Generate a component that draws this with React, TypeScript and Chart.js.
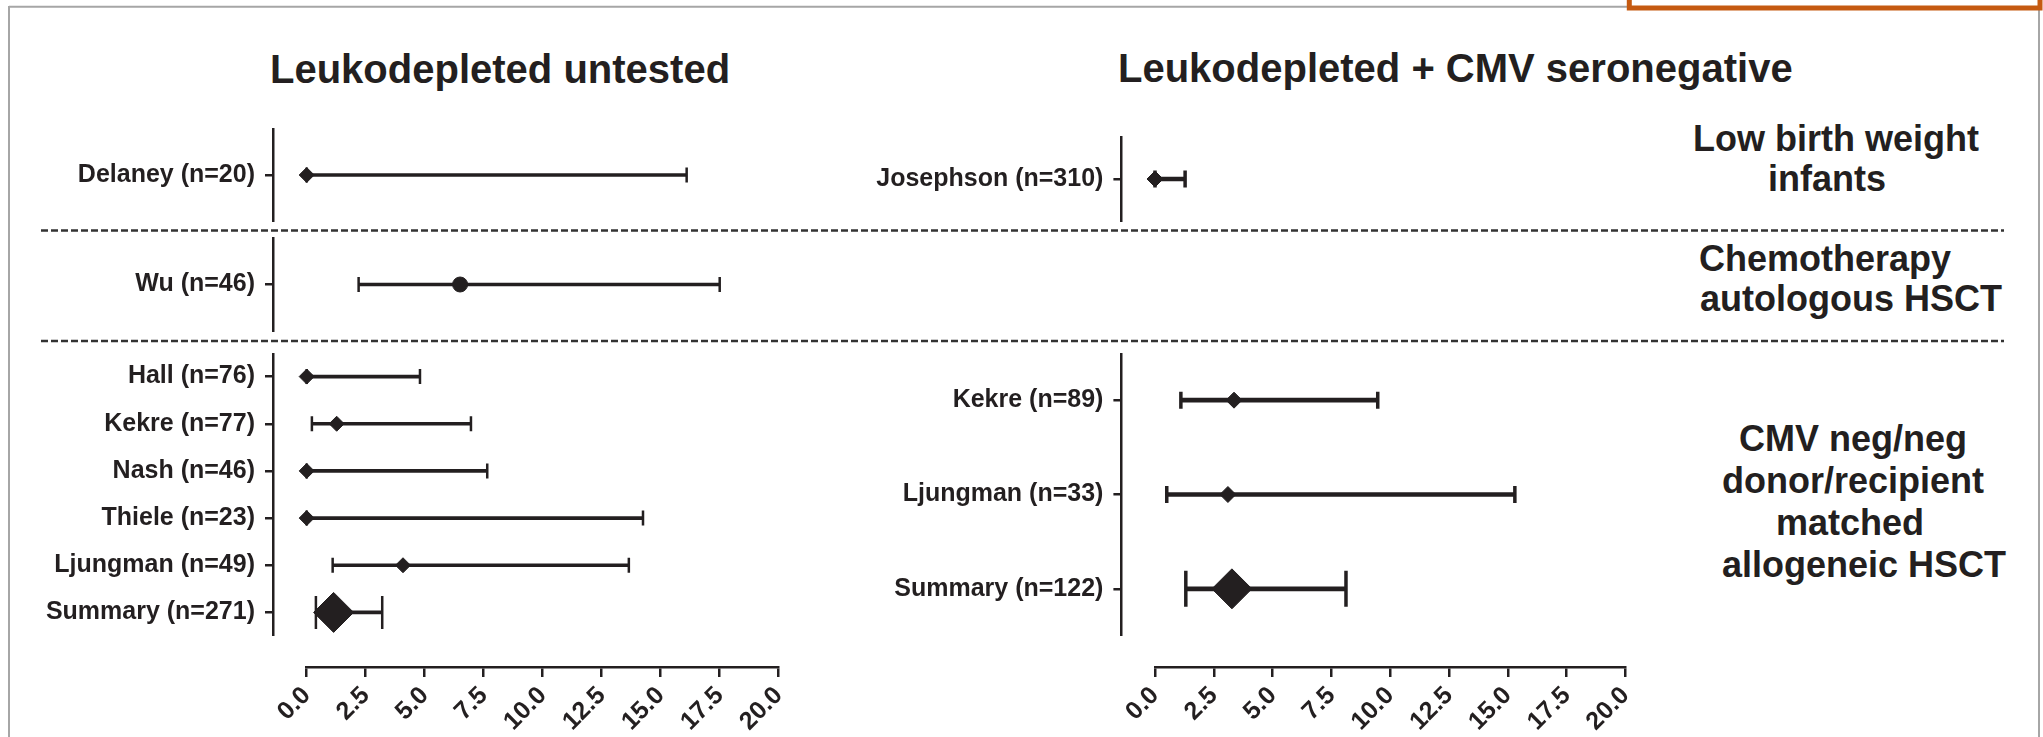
import React, { useEffect, useRef } from 'react';
import { Chart, registerables } from 'chart.js';

Chart.register(...registerables);

const INK = '#231f20';
const FONT_FAMILY = "'Liberation Sans', Arial, Helvetica, sans-serif";

// Leukodepleted untested: study, point estimate and 95% CI
const untestedStudies = ['Delaney (n=20)', 'Wu (n=46)', 'Hall (n=76)', 'Kekre (n=77)', 'Nash (n=46)', 'Thiele (n=23)', 'Ljungman (n=49)', 'Summary (n=271)'];
const untestedEstimate = [0, 6.5, 0, 1.27, 0, 0, 4.08, 1.14];
const untestedLower = [0, 2.2, 0, 0.22, 0, 0, 1.1, 0.39];
const untestedUpper = [16.1, 17.5, 4.8, 6.96, 7.65, 14.25, 13.65, 3.2];
const untestedPopulation = [0, 1, 2, 2, 2, 2, 2, 2];

// Leukodepleted + CMV seronegative: study, point estimate and 95% CI
const seronegStudies = ['Josephson (n=310)', 'Kekre (n=89)', 'Ljungman (n=33)', 'Summary (n=122)'];
const seronegEstimate = [0, 3.36, 3.1, 3.27];
const seronegLower = [0, 1.1, 0.5, 1.31];
const seronegUpper = [1.28, 9.47, 15.3, 8.12];
const seronegPopulation = [0, 2, 2, 2];

const panelTitles = ['Leukodepleted untested', 'Leukodepleted + CMV seronegative'];
const populationLabels = [
  ['Low birth weight', 'infants'],
  ['Chemotherapy', 'autologous HSCT'],
  ['CMV neg/neg', 'donor/recipient', 'matched', 'allogeneic HSCT'],
];
const xTickValues = [0, 2.5, 5, 7.5, 10, 12.5, 15, 17.5, 20];
const X_MAX = 20;
const circleMarkerStudies = ['Wu (n=46)'];

// ---- layout ----
type Panel = {
  canvasLeft: number;
  canvasWidth: number;
  axisX: number; // pixel of the vertical study axis
  zeroX: number; // pixel of value 0
  fullX: number; // pixel of value 20
  barWidth: number;
  capWidth: number;
  pointR: number;
  summaryR: number;
  capR: number;
  summaryCapR: number;
  spans: ([number, number] | null)[];
};

const LEFT_PANEL: Panel = {
  canvasLeft: 0, canvasWidth: 800, axisX: 273, zeroX: 306.7, fullX: 778.7,
  barWidth: 3, capWidth: 2.5, pointR: 7.5, summaryR: 20, capR: 7.5, summaryCapR: 16.5,
  spans: [[128, 222], [237, 332], [353, 636]],
};
const RIGHT_PANEL: Panel = {
  canvasLeft: 850, canvasWidth: 800, axisX: 1121.4, zeroX: 1155, fullX: 1625.4,
  barWidth: 4, capWidth: 3.5, pointR: 8, summaryR: 20, capR: 8.5, summaryCapR: 18,
  spans: [[136, 222], null, [353, 636]],
};
const X_AXIS_Y = 667;

const isSummary = (s: string) => s.startsWith('Summary');

function pick<T>(arr: T[], pop: number[], g: number): T[] {
  return arr.filter((_, i) => pop[i] === g);
}

type SegmentProps = {
  panel: Panel;
  top: number;
  bottom: number;
  studies: string[];
  est: number[];
  lo: number[];
  hi: number[];
};

function ForestSegment({ panel, top, bottom, studies, est, lo, hi }: SegmentProps) {
  const ref = useRef<HTMLCanvasElement | null>(null);
  const height = Math.round(bottom - top);

  useEffect(() => {
    if (!ref.current) return;
    const unit = (panel.fullX - panel.zeroX) / X_MAX;
    const xMin = -(panel.zeroX - panel.axisX) / unit;
    const chart = new Chart(ref.current, {
      type: 'bar',
      data: {
        labels: studies,
        datasets: [
          {
            type: 'scatter',
            data: studies.map((s, i) => ({ x: est[i], y: s })),
            pointStyle: studies.map((s) => (circleMarkerStudies.includes(s) ? 'circle' : 'rectRot')),
            pointRadius: studies.map((s) => (isSummary(s) ? panel.summaryR : panel.pointR)),
            pointBackgroundColor: INK,
            pointBorderColor: INK,
            pointBorderWidth: 1,
            order: 0,
          } as any,
          {
            type: 'scatter',
            data: studies.flatMap((s, i) => [{ x: lo[i], y: s }, { x: hi[i], y: s }]),
            pointStyle: 'line',
            pointRotation: 90,
            pointRadius: studies.flatMap((s) => {
              const r = isSummary(s) ? panel.summaryCapR : panel.capR;
              return [r, r];
            }),
            pointBorderColor: INK,
            pointBorderWidth: panel.capWidth,
            order: 1,
          } as any,
          {
            type: 'bar',
            data: studies.map((_, i) => [lo[i], hi[i]]),
            backgroundColor: INK,
            barThickness: panel.barWidth,
            order: 2,
          } as any,
        ],
      },
      options: {
        indexAxis: 'y',
        responsive: false,
        animation: false,
        events: [],
        layout: {
          autoPadding: false,
          padding: { left: 0, top: 0, bottom: 0, right: panel.canvasWidth - (panel.fullX - panel.canvasLeft) },
        },
        plugins: { legend: { display: false }, tooltip: { enabled: false } },
        scales: {
          x: { type: 'linear', min: xMin, max: X_MAX, display: false },
          y: {
            type: 'category',
            offset: true,
            grid: { display: true, drawOnChartArea: false, drawTicks: true, tickLength: 8, lineWidth: 2.5, color: INK, offset: false },
            border: { display: true, color: INK, width: 2.5 },
            ticks: { color: INK, padding: 10, autoSkip: false, font: { family: FONT_FAMILY, size: 25, weight: 'bold' } },
            afterFit: (scale: any) => {
              scale.width = panel.axisX - panel.canvasLeft;
              scale.paddingTop = 0;
              scale.paddingBottom = 0;
            },
          },
        },
      } as any,
    });
    return () => chart.destroy();
  }, [panel, studies, est, lo, hi, height]);

  return (
    <canvas
      ref={ref}
      width={panel.canvasWidth}
      height={height}
      style={{ position: 'absolute', left: panel.canvasLeft, top, width: panel.canvasWidth, height }}
    />
  );
}

function XAxisStrip({ panel }: { panel: Panel }) {
  const ref = useRef<HTMLCanvasElement | null>(null);
  const areaHeight = 20;
  const axisHeight = 70;
  const height = areaHeight + axisHeight;

  useEffect(() => {
    if (!ref.current) return;
    const chart = new Chart(ref.current, {
      type: 'scatter',
      data: { datasets: [] },
      options: {
        responsive: false,
        animation: false,
        events: [],
        layout: {
          autoPadding: false,
          padding: {
            left: panel.zeroX - panel.canvasLeft,
            right: panel.canvasWidth - (panel.fullX - panel.canvasLeft),
            top: 0,
            bottom: 0,
          },
        },
        plugins: { legend: { display: false }, tooltip: { enabled: false } },
        scales: {
          x: {
            type: 'linear',
            position: 'bottom',
            min: 0,
            max: X_MAX,
            afterBuildTicks: (scale: any) => {
              scale.ticks = xTickValues.map((v) => ({ value: v }));
            },
            grid: { display: true, drawOnChartArea: false, drawTicks: true, tickLength: 10, lineWidth: 2.5, color: INK },
            border: { display: true, color: INK, width: 2.5 },
            ticks: {
              autoSkip: false,
              minRotation: 45,
              maxRotation: 45,
              padding: 4,
              color: INK,
              font: { family: FONT_FAMILY, size: 25, weight: 'bold' },
              callback: (v: any) => Number(v).toFixed(1),
            },
            afterFit: (scale: any) => {
              scale.height = axisHeight;
              scale.paddingLeft = 0;
              scale.paddingRight = 0;
            },
          },
          y: { display: false, min: 0, max: 1 },
        },
      } as any,
    });
    return () => chart.destroy();
  }, [panel]);

  return (
    <canvas
      ref={ref}
      width={panel.canvasWidth}
      height={height}
      style={{ position: 'absolute', left: panel.canvasLeft, top: X_AXIS_Y - areaHeight, width: panel.canvasWidth, height }}
    />
  );
}

type TextLineProps = { text: string; x: number; baseline: number; size: number; align: 'left' | 'center' };

function TextLine({ text, x, baseline, size, align }: TextLineProps) {
  const top = baseline - (size / 2 + 0.3465 * size);
  const base: React.CSSProperties = {
    position: 'absolute',
    top,
    font: `bold ${size}px/${size}px ${FONT_FAMILY}`,
    color: INK,
    whiteSpace: 'nowrap',
  };
  const style: React.CSSProperties =
    align === 'center' ? { ...base, left: x - 400, width: 800, textAlign: 'center' } : { ...base, left: x };
  return <div style={style}>{text}</div>;
}

// text placement for the titles and the population labels
const titlePlacement = [
  { x: 270, baseline: 83 },
  { x: 1118, baseline: 82 },
];
const populationPlacement = [
  [{ x: 1836, baseline: 151.7 }, { x: 1827, baseline: 191.7 }],
  [{ x: 1825, baseline: 271.7 }, { x: 1851, baseline: 311.7 }],
  [{ x: 1853, baseline: 451.7 }, { x: 1853, baseline: 493 }, { x: 1850, baseline: 535 }, { x: 1864, baseline: 577 }],
];
const dividerY = [230.6, 341];

export default function App() {
  const panels: { panel: Panel; studies: string[]; est: number[]; lo: number[]; hi: number[]; pop: number[] }[] = [
    { panel: LEFT_PANEL, studies: untestedStudies, est: untestedEstimate, lo: untestedLower, hi: untestedUpper, pop: untestedPopulation },
    { panel: RIGHT_PANEL, studies: seronegStudies, est: seronegEstimate, lo: seronegLower, hi: seronegUpper, pop: seronegPopulation },
  ];

  return (
    <div style={{ position: 'absolute', left: 0, top: 0, width: 2043, height: 737, overflow: 'hidden', background: '#fff' }}>
      <svg width={2043} height={737} style={{ position: 'absolute', left: 0, top: 0 }}>
        <line x1={9} y1={6.7} x2={1627} y2={6.7} stroke="#a6a6a6" strokeWidth={2} />
        <line x1={9} y1={6} x2={9} y2={737} stroke="#a6a6a6" strokeWidth={2} />
        <line x1={2039} y1={8} x2={2039} y2={737} stroke="#a6a6a6" strokeWidth={2} />
        <rect x={1629.3} y={-20} width={410.7} height={28} fill="#fff" stroke="#c55a11" strokeWidth={5} />
        {dividerY.map((y) => (
          <line key={y} x1={41} y1={y} x2={2004} y2={y} stroke="#333" strokeWidth={2.5} strokeDasharray="7 3" />
        ))}
      </svg>

      {panelTitles.map((t, i) => (
        <TextLine key={t} text={t} x={titlePlacement[i].x} baseline={titlePlacement[i].baseline} size={40} align="left" />
      ))}

      {populationLabels.map((lines, g) =>
        lines.map((line, j) => (
          <TextLine
            key={`${g}-${j}`}
            text={line}
            x={populationPlacement[g][j].x}
            baseline={populationPlacement[g][j].baseline}
            size={36}
            align="center"
          />
        ))
      )}

      {panels.map(({ panel, studies, est, lo, hi, pop }, p) =>
        panel.spans.map((span, g) => {
          if (!span) return null;
          return (
            <ForestSegment
              key={`${p}-${g}`}
              panel={panel}
              top={span[0]}
              bottom={span[1]}
              studies={pick(studies, pop, g)}
              est={pick(est, pop, g)}
              lo={pick(lo, pop, g)}
              hi={pick(hi, pop, g)}
            />
          );
        })
      )}

      <XAxisStrip panel={LEFT_PANEL} />
      <XAxisStrip panel={RIGHT_PANEL} />
    </div>
  );
}
